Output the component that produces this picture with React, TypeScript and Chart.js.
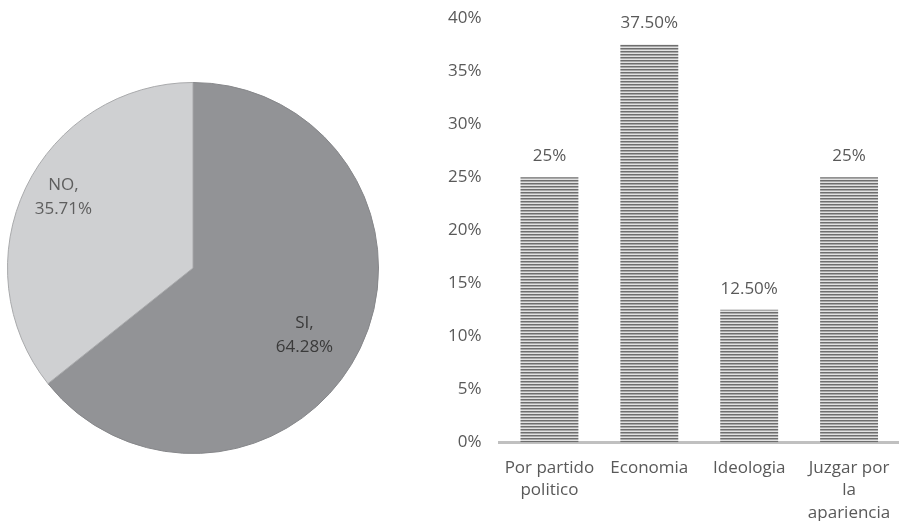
import React, { useEffect, useRef } from "react";
import { Chart, registerables } from "chart.js";

Chart.register(...registerables);

const pieLabels = ["SI", "NO"];
const pieValues = [64.28, 35.71];
const pieTexts = [["SI,", "64.28%"], ["NO,", "35.71%"]];
const pieColors = ["#929396", "#cfd0d2"];

const barCategories = [["Por partido", "politico"], "Economia", "Ideologia", ["Juzgar por", "la", "apariencia"]];
const barValues = [0.25, 0.375, 0.125, 0.25];
const barValueLabels = ["25%", "37.50%", "12.50%", "25%"];

const FONT = "'Open Sans', 'DejaVu Sans', sans-serif";
const TEXT = "#595959";

function makePattern(): CanvasPattern | string {
  const c = document.createElement("canvas");
  c.width = 4;
  c.height = 3;
  const ctx = c.getContext("2d");
  if (!ctx) return "#a0a0a0";
  ctx.fillStyle = "#6e6e6e";
  ctx.fillRect(0, 0, 4, 1);
  ctx.fillStyle = "#a8a8a8";
  ctx.fillRect(0, 1, 4, 1);
  ctx.fillStyle = "#e2e2e2";
  ctx.fillRect(0, 2, 4, 1);
  return ctx.createPattern(c, "repeat") || "#a0a0a0";
}

export default function App() {
  const pieRef = useRef<HTMLCanvasElement>(null);
  const barRef = useRef<HTMLCanvasElement>(null);

  useEffect(() => {
    document.body.style.margin = "0";
    const pieLabelPlugin = {
      id: "pieLabels",
      afterDatasetsDraw(chart: any) {
        const ctx = chart.ctx;
        const meta = chart.getDatasetMeta(0);
        const radial = [0.7, 0.8];
        const shift = [0.09, 0.06];
        ctx.save();
        ctx.font = `17px ${FONT}`;
        ctx.textAlign = "center";
        ctx.textBaseline = "middle";
        meta.data.forEach((arc: any, i: number) => {
          const p = arc.getProps(["x", "y", "startAngle", "endAngle", "outerRadius"], true);
          const mid = (p.startAngle + p.endAngle) / 2 + shift[i];
          const r = p.outerRadius * radial[i];
          const cx = p.x + Math.cos(mid) * r;
          const cy = p.y + Math.sin(mid) * r;
          ctx.fillStyle = i === 0 ? "#3a3a3a" : "#5e5e5e";
          const lines = pieTexts[i];
          lines.forEach((t, j) => {
            ctx.fillText(t, cx, cy + 1 + (j - (lines.length - 1) / 2) * 24);
          });
        });
        ctx.restore();
      },
    };

    const pie = new Chart(pieRef.current as HTMLCanvasElement, {
      type: "pie",
      data: {
        labels: pieLabels,
        datasets: [
          {
            data: pieValues,
            backgroundColor: pieColors,
            borderColor: ["#86878a", "#a9aaac"],
            borderWidth: 1,
          },
        ],
      },
      options: {
        animation: false,
        responsive: false,
        maintainAspectRatio: false,
        layout: { padding: 0 },
        plugins: { legend: { display: false }, tooltip: { enabled: false } },
      },
      plugins: [pieLabelPlugin],
    });

    const valueLabelPlugin = {
      id: "valueLabels",
      afterDatasetsDraw(chart: any) {
        const ctx = chart.ctx;
        const meta = chart.getDatasetMeta(0);
        ctx.save();
        ctx.font = `17px ${FONT}`;
        ctx.fillStyle = TEXT;
        ctx.textAlign = "center";
        ctx.textBaseline = "middle";
        meta.data.forEach((bar: any, i: number) => {
          ctx.fillText(barValueLabels[i], bar.x, bar.y - 21);
        });
        ctx.restore();
      },
    };

    const bar = new Chart(barRef.current as HTMLCanvasElement, {
      type: "bar",
      data: {
        labels: barCategories as any,
        datasets: [
          {
            data: barValues,
            backgroundColor: makePattern() as any,
            barPercentage: 0.58,
            categoryPercentage: 1,
          },
        ],
      },
      options: {
        animation: false,
        responsive: false,
        maintainAspectRatio: false,
        layout: { padding: { top: 18, right: 0, left: 0, bottom: 0 } },
        plugins: { legend: { display: false }, tooltip: { enabled: false } },
        scales: {
          x: {
            grid: { display: false, drawTicks: false },
            border: { display: true, color: "#c0c0c0", width: 3 },
            ticks: {
              color: TEXT,
              font: { family: FONT, size: 17, lineHeight: 1.3 },
              padding: 15,
              maxRotation: 0,
              autoSkip: false,
            },
            afterFit(scale: any) {
              scale.height = 78.5;
              scale.paddingLeft = 0;
              scale.paddingRight = 0;
            },
          },
          y: {
            min: 0,
            max: 0.4,
            grid: { display: false, drawTicks: false },
            border: { display: false },
            ticks: {
              stepSize: 0.05,
              color: TEXT,
              font: { family: FONT, size: 17 },
              padding: 18,
              callback: (v: any) => `${Math.round(Number(v) * 100)}%`,
            },
            afterFit(scale: any) {
              scale.width = 59.5;
              scale.paddingTop = 0;
              scale.paddingBottom = 0;
            },
          },
        },
      },
      plugins: [valueLabelPlugin],
    });

    return () => {
      pie.destroy();
      bar.destroy();
    };
  }, []);

  return (
    <div style={{ position: "fixed", left: 0, top: 0, width: 899, height: 521, background: "#fff" }}>
      <canvas
        ref={pieRef}
        width={372}
        height={372}
        style={{ position: "absolute", left: 7, top: 82, width: 372, height: 372 }}
      />
      <canvas
        ref={barRef}
        width={459}
        height={521}
        style={{ position: "absolute", left: 440, top: 0, width: 459, height: 521 }}
      />
    </div>
  );
}
